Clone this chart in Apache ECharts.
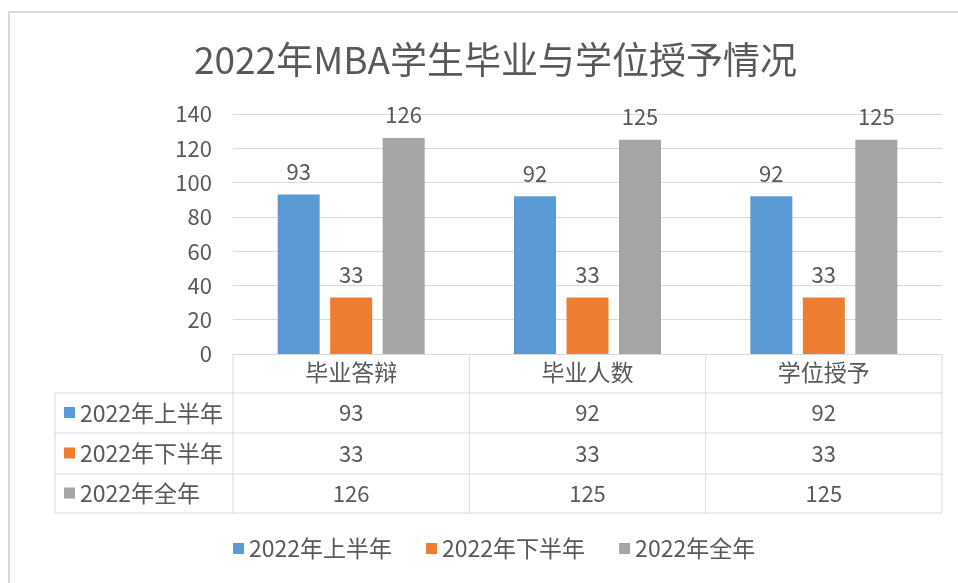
<!DOCTYPE html>
<html>
<head>
<meta charset="utf-8">
<script src="https://cdn.jsdelivr.net/npm/echarts@6/dist/echarts.min.js"></script>
<style>
  * { margin: 0; padding: 0; }
  body { background: #fff; }
  #main { width: 958px; height: 583px; }
</style>
</head>
<body>
<div id="main"></div>
<script>
  var categories = ['毕业答辩', '毕业人数', '学位授予'];
  var seriesNames = ['2022年上半年', '2022年下半年', '2022年全年'];
  var firstHalf = [93, 92, 92];
  var secondHalf = [33, 33, 33];
  var fullYear = [126, 125, 125];
  var yTicks = [0, 20, 40, 60, 80, 100, 120, 140];

  var colors = ['#5B9BD5', '#ED7D31', '#A5A5A5'];
  var textColor = '#595959';
  var lineColor = '#D9D9D9';
  var font = '"Noto Sans CJK SC", "Noto Sans", sans-serif';

  // grid / table layout
  var gLeft = 233, gRight = 942, gTop = 114, gBottom = 354;
  var tableLeft = 55;
  var rowLines = [393, 433, 474, 513];

  var chart = echarts.init(document.getElementById('main'))
  var values = [firstHalf, secondHalf, fullYear];

  chart.setOption({
    color: colors,
    textStyle: { fontFamily: font, color: textColor },
    title: {
      text: '2022年MBA学生毕业与学位授予情况',
      left: 189,
      top: 36,
      textStyle: { fontFamily: font, fontSize: 37, fontWeight: 'normal', color: textColor }
    },
    legend: {
      data: seriesNames,
      bottom: 18,
      left: 228,
      icon: 'rect',
      itemWidth: 11,
      itemHeight: 11,
      itemGap: 34,
      textStyle: { fontFamily: font, fontSize: 23, color: textColor }
    },
    grid: {
      left: gLeft,
      right: 958 - gRight,
      top: gTop,
      bottom: 583 - gBottom
    },
    xAxis: {
      type: 'category',
      data: categories,
      axisLine: { lineStyle: { color: lineColor } },
      axisTick: { show: false },
      axisLabel: { margin: 7, fontSize: 23, color: textColor, fontFamily: font }
    },
    yAxis: {
      type: 'value',
      min: yTicks[0],
      max: yTicks[yTicks.length - 1],
      interval: 20,
      axisLine: { show: false },
      axisTick: { show: false },
      axisLabel: { margin: 21, fontSize: 22, color: textColor, fontFamily: font },
      splitLine: { lineStyle: { color: lineColor } }
    },
    series: seriesNames.map(function (name, i) {
      return {
        name: name,
        type: 'bar',
        data: values[i],
        barWidth: 42,
        barGap: '25%',
        label: {
          show: true,
          position: 'top',
          distance: 12,
          fontSize: 22,
          color: textColor,
          fontFamily: font
        }
      }
    })
  })

  // data table under the plot
  var centers = categories.map(function (c, i) {
    return chart.convertToPixel({ xAxisIndex: 0 }, i)
  })
  var half = (gRight - gLeft) / categories.length / 2
  var colLines = [gLeft].concat(centers.map(function (c) { return c + half }))

  var els = []
  els.push({
    type: 'rect',
    shape: { x: 9, y: 12, width: 980, height: 600 },
    style: { fill: 'none', stroke: lineColor, lineWidth: 2 },
    silent: true
  })
  rowLines.forEach(function (y) {
    els.push({ type: 'line', shape: { x1: tableLeft, y1: y, x2: gRight, y2: y }, style: { stroke: lineColor, lineWidth: 1 } })
  })
  els.push({ type: 'line', shape: { x1: tableLeft, y1: rowLines[0], x2: tableLeft, y2: rowLines[rowLines.length - 1] }, style: { stroke: lineColor, lineWidth: 1 } })
  colLines.forEach(function (x) {
    els.push({ type: 'line', shape: { x1: x, y1: gBottom, x2: x, y2: rowLines[rowLines.length - 1] }, style: { stroke: lineColor, lineWidth: 1 } })
  })
  seriesNames.forEach(function (name, r) {
    var cy = (rowLines[r] + rowLines[r + 1]) / 2
    els.push({ type: 'rect', shape: { x: 64, y: cy - 6, width: 11, height: 11 }, style: { fill: colors[r] } })
    els.push({
      type: 'text', x: 80, y: cy,
      style: { text: name, fill: textColor, font: '23px ' + font, textAlign: 'left', textVerticalAlign: 'middle' }
    })
    values[r].forEach(function (v, c) {
      els.push({
        type: 'text', x: centers[c], y: cy,
        style: { text: String(v), fill: textColor, font: '22px ' + font, textAlign: 'center', textVerticalAlign: 'middle' }
      })
    })
  })
  chart.setOption({ graphic: els })
</script>
</body>
</html>
